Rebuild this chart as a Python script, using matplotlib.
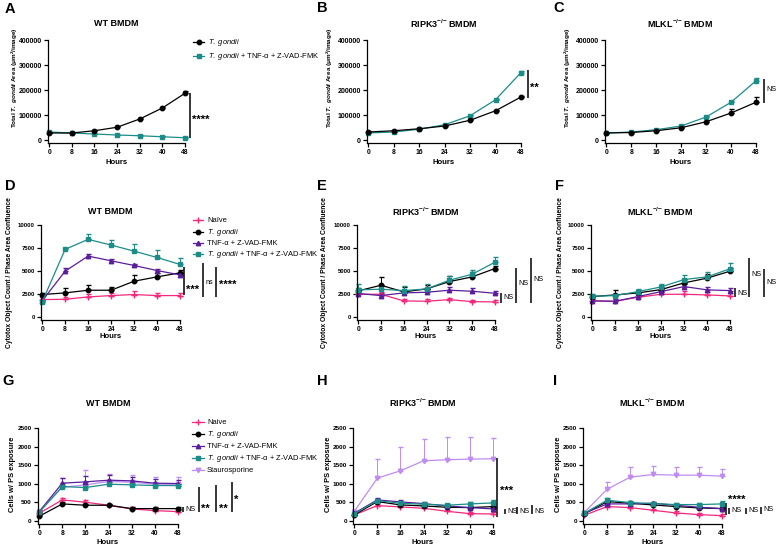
import numpy as np
import matplotlib
matplotlib.use("Agg")
import matplotlib.pyplot as plt
from matplotlib.lines import Line2D
from matplotlib.transforms import blended_transform_factory, offset_copy

plt.rcParams['font.family'] = ['Liberation Sans', 'DejaVu Sans']
plt.rcParams['mathtext.fontset'] = 'custom'
plt.rcParams['mathtext.rm'] = 'Liberation Sans'
plt.rcParams['mathtext.it'] = 'Liberation Sans:italic'
plt.rcParams['mathtext.bf'] = 'Liberation Sans:bold'
plt.rcParams['mathtext.bfit'] = 'Liberation Sans:bold:italic'

hours = [0, 8, 16, 24, 32, 40, 48]

# row 1: total T. gondii area
a_tg = [28000, 28000, 37000, 51000, 84000, 128000, 187000]
a_tg_err = [3000, 3000, 4000, 4000, 5000, 6000, 10000]
a_tnf = [32000, 28000, 24000, 20000, 17000, 13000, 9000]
a_tnf_err = [2000, 2000, 2000, 2000, 2000, 2000, 2000]
b_tg = [32000, 37000, 45000, 56000, 79000, 117000, 172000]
b_tg_err = [3000, 3000, 3000, 3000, 4000, 4000, 5000]
b_tnf = [28000, 32000, 43000, 61000, 97000, 161000, 270000]
b_tnf_err = [2000, 2000, 3000, 3000, 4000, 5000, 6000]
c_tg = [28000, 30000, 37000, 49000, 73000, 108000, 151000]
c_tg_err = [2000, 2000, 3000, 3000, 4000, 18000, 20000]
c_tnf = [28000, 32000, 41000, 56000, 92000, 151000, 237000]
c_tnf_err = [2000, 2000, 3000, 3000, 4000, 5000, 12000]

# row 2: cytotox / confluence
d_naive = [1890, 1930, 2180, 2330, 2440, 2330, 2330]
d_naive_err = [300, 250, 300, 300, 400, 300, 250]
d_tg = [2440, 2620, 2910, 2910, 3890, 4360, 4800]
d_tg_err = [200, 500, 600, 400, 650, 400, 300]
d_tnf = [1750, 4980, 6620, 6110, 5600, 5050, 4580]
d_tnf_err = [200, 300, 200, 150, 150, 200, 200]
d_both = [1640, 7350, 8440, 7820, 7160, 6470, 5710]
d_both_err = [200, 150, 550, 550, 800, 850, 700]

e_naive = [2470, 2470, 1750, 1710, 1890, 1670, 1640]
e_naive_err = [300, 300, 200, 200, 200, 200, 200]
e_tg = [2840, 3450, 2730, 3050, 3850, 4360, 5270]
e_tg_err = [300, 900, 500, 400, 600, 500, 300]
e_tnf = [2550, 2330, 2620, 2690, 2910, 2800, 2580]
e_tnf_err = [400, 300, 300, 300, 400, 400, 300]
e_both = [2950, 3020, 2870, 3050, 4000, 4650, 5960]
e_both_err = [600, 400, 500, 500, 500, 500, 600]

f_naive = [1750, 1710, 2150, 2470, 2470, 2400, 2290]
f_naive_err = [200, 200, 200, 300, 400, 300, 300]
f_tg = [2220, 2400, 2620, 2980, 3710, 4220, 4980]
f_tg_err = [200, 500, 300, 300, 400, 400, 300]
f_tnf = [1750, 1710, 2220, 2760, 3310, 2950, 2870]
f_tnf_err = [200, 200, 200, 300, 300, 300, 300]
f_both = [2250, 2330, 2760, 3270, 4070, 4360, 5240]
f_both_err = [200, 200, 300, 300, 500, 500, 600]

# row 3: cells with PS exposure
g_naive = [207, 567, 504, 423, 324, 279, 252]
g_naive_err = [30, 50, 50, 40, 40, 40, 30]
g_tg = [126, 459, 423, 423, 333, 333, 333]
g_tg_err = [30, 40, 40, 40, 40, 40, 40]
g_tnf = [252, 1016, 1052, 1097, 1079, 1016, 1007]
g_tnf_err = [40, 150, 150, 150, 100, 100, 100]
g_both = [234, 926, 899, 989, 971, 953, 953]
g_both_err = [30, 50, 60, 50, 50, 50, 50]
g_stauro = [243, 908, 971, 1061, 1043, 989, 989]
g_stauro_err = [40, 250, 400, 200, 200, 200, 200]

h_naive = [162, 414, 378, 342, 261, 198, 189]
h_naive_err = [30, 40, 40, 40, 40, 40, 40]
h_tg = [162, 522, 432, 405, 369, 360, 387]
h_tg_err = [30, 50, 40, 40, 40, 40, 60]
h_tnf = [207, 567, 513, 468, 405, 360, 324]
h_tnf_err = [30, 50, 40, 40, 40, 40, 40]
h_both = [189, 549, 477, 450, 423, 459, 486]
h_both_err = [30, 50, 40, 40, 40, 50, 70]
h_stauro = [252, 1151, 1349, 1619, 1646, 1664, 1673]
h_stauro_err = [50, 520, 650, 580, 600, 590, 550]

i_naive = [153, 387, 360, 288, 216, 171, 144]
i_naive_err = [30, 40, 40, 40, 40, 40, 40]
i_tg = [189, 522, 477, 432, 387, 351, 333]
i_tg_err = [30, 50, 40, 40, 40, 40, 40]
i_tnf = [207, 459, 459, 477, 423, 369, 333]
i_tnf_err = [30, 40, 40, 40, 40, 40, 40]
i_both = [207, 558, 495, 468, 441, 441, 459]
i_both_err = [30, 50, 40, 40, 40, 50, 80]
i_stauro = [225, 854, 1178, 1250, 1232, 1232, 1205]
i_stauro_err = [50, 200, 280, 220, 220, 230, 200]

PINK = '#f2287c'
BLACK = '#000000'
PURPLE = '#5a1e9b'
TEAL = '#1c8c88'
LAV = '#bf8cf2'

style = {
    'naive': (PINK, '+'),
    'tg': (BLACK, 'o'),
    'tnf': (PURPLE, '^'),
    'both': (TEAL, 's'),
    'stauro': (LAV, 'v'),
}

W, H = 778, 544
fig = plt.figure(figsize=(7.78, 5.44), dpi=100)


def fx(x):
    return x / W


def fy(y):
    return 1 - y / H


def make_ax(l, t, r, b, ymax, ylow, yticks, tick_fs):
    ax = fig.add_axes([fx(l), fy(b), (r - l) / W, (b - t) / H])
    ax.set_xlim(-0.4, 48)
    ax.set_ylim(ylow, ymax)
    ax.set_xticks(hours)
    ax.set_yticks(yticks)
    for s in ['top', 'right']:
        ax.spines[s].set_visible(False)
    for s in ['left', 'bottom']:
        ax.spines[s].set_linewidth(0.9)
    ax.tick_params(length=3, width=0.9, pad=1.5, labelsize=tick_fs)
    ax.tick_params(axis='x', labelsize=4.9)
    for lab in ax.get_xticklabels() + ax.get_yticklabels():
        lab.set_fontweight('bold')
    return ax


def series(ax, y, err, key):
    c, m = style[key]
    ms = 4.5 if m == '+' else 3.2
    ax.errorbar(hours, y, yerr=[np.zeros(len(err)), err], color=c, marker=m,
                ms=ms, mew=1.0, lw=0.9, elinewidth=0.7, capsize=1.8,
                capthick=0.7, clip_on=False)


def labels(ax, title, ylabel, title_y, ylab_x, ylab_y, xlab_y, ylab_fs):
    l, b, w, h = ax.get_position().bounds
    fig.text(l + w / 2, fy(title_y), title, ha='center', va='center',
             fontsize=6.5, weight='bold')
    ax.set_ylabel(ylabel, fontsize=ylab_fs, weight='bold')
    ax.yaxis.set_label_coords(fx(ylab_x), fy(ylab_y), transform=fig.transFigure)
    ax.yaxis.label.set_va('center')
    ax.set_xlabel('Hours', fontsize=5.6, weight='bold')
    ax.xaxis.set_label_coords(l + w / 2, fy(xlab_y), transform=fig.transFigure)
    ax.xaxis.label.set_va('center')


def sig(ax, x_px, y0, y1, text, ty):
    tr = blended_transform_factory(fig.transFigure, ax.transData)
    ax.plot([fx(x_px)] * 2, [y0, y1], transform=tr, color='k', lw=1.1,
            clip_on=False, solid_capstyle='butt')
    if '*' in text:
        ttr = offset_copy(tr, fig=fig, y=-2.2, units='points')
        ax.text(fx(x_px + 2.5), ty, text, transform=ttr, fontsize=8,
                weight='bold', va='center', ha='left')
    else:
        ax.text(fx(x_px + 2.5), ty, text, transform=tr, fontsize=5.2,
                va='center', ha='left')


def legend(entries, ys, hx0, hx1, tx):
    for (key, lab), y in zip(entries, ys):
        c, m = style[key]
        fig.add_artist(Line2D([fx(hx0), fx(hx1)], [fy(y), fy(y)], color=c, lw=0.9,
                              transform=fig.transFigure))
        ms = 4.5 if m == '+' else 3.2
        fig.add_artist(Line2D([fx((hx0 + hx1) / 2)], [fy(y)], color=c, marker=m,
                              ms=ms, mew=1.0, transform=fig.transFigure))
        fig.text(fx(tx), fy(y), lab, fontsize=5.4, va='center')


TG = r'$\mathit{T.\ gondii}$'
title_ripk = r'RIPK3$^{\mathbf{{-}/{-}}}$ BMDM'
title_mlkl = r'MLKL$^{\mathbf{{-}/{-}}}$ BMDM'
ylab1 = r'Total $\mathbfit{T.\ gondii}$ Area (μm$^{\mathbf{2}}$/image)'
ylab2 = 'Cytotox Object Count / Phase Area Confluence'
ylab3 = 'Cells w/ PS exposure'

# ---- row 1
y1ticks = [0, 100000, 200000, 300000, 400000]
axA = make_ax(48, 40, 185, 143, 400000, -12000, y1ticks, 5)
axB = make_ax(367, 40, 521, 143, 400000, -12000, y1ticks, 5)
axC = make_ax(605, 40, 756, 143, 400000, -12000, y1ticks, 5)
for ax, tg, tge, tn, tne in [(axA, a_tg, a_tg_err, a_tnf, a_tnf_err),
                             (axB, b_tg, b_tg_err, b_tnf, b_tnf_err),
                             (axC, c_tg, c_tg_err, c_tnf, c_tnf_err)]:
    series(ax, tn, tne, 'both')
    series(ax, tg, tge, 'tg')
labels(axA, 'WT BMDM', ylab1, 24, 15, 78, 163, 4.6)
labels(axB, title_ripk, ylab1, 24, 330, 78, 163, 4.6)
labels(axC, title_mlkl, ylab1, 24, 568, 78, 163, 4.6)
sig(axA, 190, 10000, 187000, '****', 92000)
sig(axB, 528, 168000, 280000, '**', 220000)
sig(axC, 764, 148000, 244000, 'NS', 204000)
legend([('tg', TG), ('both', TG + ' + TNF-α + Z-VAD-FMK')], [42, 56], 193, 204, 208)

# ---- row 2
y2ticks = [0, 2500, 5000, 7500, 10000]
axD = make_ax(41, 225, 180, 320, 10000, -326, y2ticks, 4.3)
axE = make_ax(357, 225, 495, 320, 10000, -326, y2ticks, 4.3)
axF = make_ax(591, 225, 730, 320, 10000, -326, y2ticks, 4.3)
for ax, d in [(axD, (d_naive, d_naive_err, d_tg, d_tg_err, d_tnf, d_tnf_err, d_both, d_both_err)),
              (axE, (e_naive, e_naive_err, e_tg, e_tg_err, e_tnf, e_tnf_err, e_both, e_both_err)),
              (axF, (f_naive, f_naive_err, f_tg, f_tg_err, f_tnf, f_tnf_err, f_both, f_both_err))]:
    series(ax, d[0], d[1], 'naive')
    series(ax, d[2], d[3], 'tg')
    series(ax, d[4], d[5], 'tnf')
    series(ax, d[6], d[7], 'both')
labels(axD, 'WT BMDM', ylab2, 212, 10, 273, 337, 4.9)
labels(axE, title_ripk, ylab2, 212, 325, 273, 337, 4.9)
labels(axF, title_mlkl, ylab2, 212, 561, 273, 337, 4.9)
sig(axD, 184, 2390, 5435, '***', 3260)
sig(axD, 203, 2170, 5870, 'ns', 3700)
sig(axD, 216, 2170, 5430, '****', 3800)
sig(axE, 501, 1520, 2600, 'NS', 2070)
sig(axE, 516, 1520, 5330, 'NS', 3600)
sig(axE, 531, 1520, 6400, 'NS', 4100)
sig(axF, 735, 2170, 3150, 'NS', 2600)
sig(axF, 749, 2170, 6400, 'NS', 4670)
sig(axF, 764, 2170, 5220, 'NS', 3700)
legend([('naive', 'Naïve'), ('tg', TG), ('tnf', 'TNF-α + Z-VAD-FMK'),
        ('both', TG + ' + TNF-α + Z-VAD-FMK')], [220, 232, 243, 254], 193, 203, 207)

# ---- row 3
y3ticks = [0, 500, 1000, 1500, 2000, 2500]
axG = make_ax(38, 428, 178, 524, 2500, -81, y3ticks, 4.6)
axH = make_ax(353, 428, 493, 524, 2500, -81, y3ticks, 4.6)
axI = make_ax(583, 428, 722, 524, 2500, -81, y3ticks, 4.6)
for ax, d in [(axG, (g_naive, g_naive_err, g_tg, g_tg_err, g_tnf, g_tnf_err, g_both, g_both_err, g_stauro, g_stauro_err)),
              (axH, (h_naive, h_naive_err, h_tg, h_tg_err, h_tnf, h_tnf_err, h_both, h_both_err, h_stauro, h_stauro_err)),
              (axI, (i_naive, i_naive_err, i_tg, i_tg_err, i_tnf, i_tnf_err, i_both, i_both_err, i_stauro, i_stauro_err))]:
    series(ax, d[8], d[9], 'stauro')
    series(ax, d[0], d[1], 'naive')
    series(ax, d[2], d[3], 'tg')
    series(ax, d[4], d[5], 'tnf')
    series(ax, d[6], d[7], 'both')
labels(axG, 'WT BMDM', ylab3, 403, 13, 474, 542, 5.4)
labels(axH, title_ripk, ylab3, 403, 328, 474, 542, 5.4)
labels(axI, title_mlkl, ylab3, 403, 558, 474, 542, 5.4)
sig(axG, 183, 242, 376, 'NS', 310)
sig(axG, 199, 242, 914, '**', 400)
sig(axG, 216, 242, 968, '**', 400)
sig(axG, 232, 242, 1048, '*', 640)
sig(axH, 497, 110, 1690, '***', 890)
sig(axH, 505, 188, 323, 'NS', 250)
sig(axH, 517, 188, 376, 'NS', 250)
sig(axH, 532, 188, 430, 'NS', 250)
sig(axI, 726, 161, 473, '****', 640)
sig(axI, 729, 188, 349, 'NS', 290)
sig(axI, 746, 188, 349, 'NS', 290)
sig(axI, 761, 188, 376, 'NS', 300)
legend([('naive', 'Naive'), ('tg', TG), ('tnf', 'TNF-α + Z-VAD-FMK'),
        ('both', TG + ' + TNF-α + Z-VAD-FMK'), ('stauro', 'Staurosporine')],
       [422, 434, 446, 458, 470], 192, 204, 207)

# panel letters
for letter, x, y in [('A', 10, 9), ('B', 322, 8), ('C', 559, 8),
                     ('D', 10, 186), ('E', 322, 186), ('F', 559, 186),
                     ('G', 8, 381), ('H', 322, 381), ('I', 555, 381)]:
    fig.text(fx(x), fy(y), letter, fontsize=10.5, weight='bold', ha='center', va='center')

fig.savefig('out.png', dpi=100)
